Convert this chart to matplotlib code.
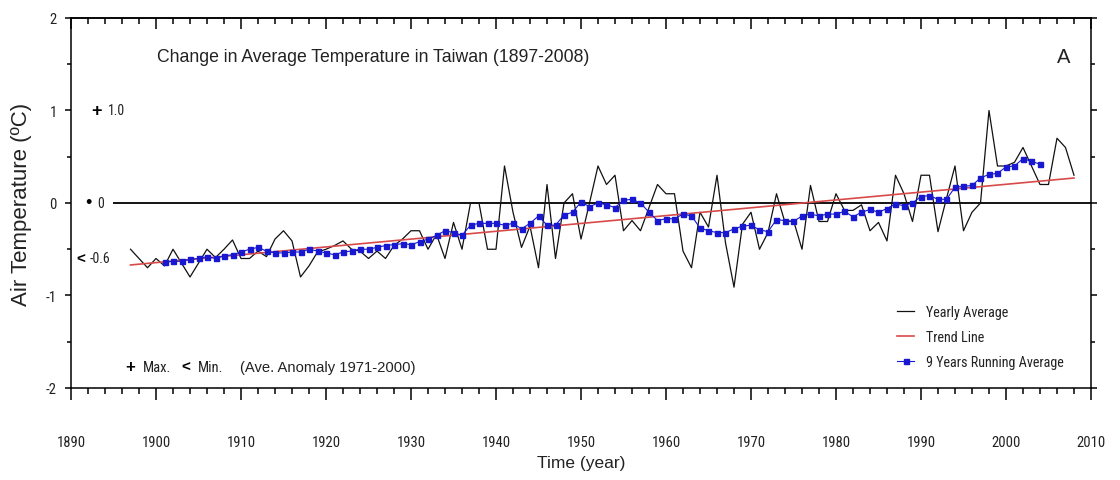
import matplotlib
matplotlib.use('Agg')
import matplotlib.pyplot as plt
from matplotlib.ticker import MultipleLocator
import numpy as np

# yearly average anomaly, 1897-2008
years = np.arange(1897, 2009)
yearly = [-0.50, -0.60, -0.70, -0.60, -0.68, -0.50, -0.65, -0.80, -0.65, -0.50,
          -0.59, -0.50, -0.40, -0.60, -0.60, -0.52, -0.58, -0.39, -0.30, -0.41,
          -0.80, -0.68, -0.53, -0.50, -0.46, -0.41, -0.50, -0.52, -0.60, -0.52,
          -0.60, -0.46, -0.39, -0.30, -0.30, -0.50, -0.34, -0.60, -0.21, -0.50,
          0.00, 0.00, -0.50, -0.50, 0.40, -0.10, -0.48, -0.25, -0.70, 0.20,
          -0.60, 0.00, 0.10, -0.39, 0.00, 0.40, 0.20, 0.30, -0.30, -0.19,
          -0.30, -0.05, 0.20, 0.10, 0.10, -0.52, -0.70, -0.10, -0.26, 0.30,
          -0.43, -0.91, -0.23, -0.10, -0.50, -0.32, 0.10, -0.21, -0.19, -0.50,
          0.19, -0.20, -0.20, 0.10, -0.08, -0.08, -0.02, -0.30, -0.21, -0.41,
          0.30, 0.10, -0.20, 0.30, 0.30, -0.31, 0.05, 0.40, -0.30, -0.10,
          0.00, 1.00, 0.40, 0.40, 0.44, 0.60, 0.40, 0.20, 0.20, 0.70,
          0.60, 0.30]

# 9 years running average, 1901-2004
run_years = np.arange(1901, 2005)
running = [-0.64, -0.63, -0.63, -0.61, -0.60, -0.58, -0.60, -0.57, -0.56, -0.53,
           -0.50, -0.48, -0.52, -0.54, -0.54, -0.53, -0.53, -0.50, -0.52, -0.54,
           -0.56, -0.53, -0.52, -0.50, -0.50, -0.48, -0.46, -0.45, -0.44, -0.45,
           -0.42, -0.39, -0.35, -0.30, -0.32, -0.35, -0.24, -0.22, -0.22, -0.22,
           -0.24, -0.22, -0.28, -0.22, -0.14, -0.24, -0.24, -0.13, -0.10, 0.01,
           -0.04, 0.00, -0.02, -0.05, 0.03, 0.04, 0.00, -0.10, -0.19, -0.17,
           -0.17, -0.12, -0.14, -0.27, -0.30, -0.32, -0.32, -0.28, -0.25, -0.24,
           -0.29, -0.31, -0.18, -0.19, -0.20, -0.14, -0.12, -0.14, -0.12, -0.12,
           -0.09, -0.15, -0.10, -0.07, -0.10, -0.06, -0.01, -0.03, 0.00, 0.07,
           0.08, 0.04, 0.04, 0.17, 0.18, 0.19, 0.27, 0.31, 0.32, 0.39,
           0.40, 0.48, 0.45, 0.42]

# trend line end points
trend_years = [1897, 2008]
trend_vals = [-0.67, 0.27]

narrow = ['Roboto Condensed', 'Liberation Sans', 'DejaVu Sans']
plt.rcParams['font.family'] = ['Liberation Sans', 'DejaVu Sans']
plt.rcParams['axes.unicode_minus'] = False
txt = '#222222'

fig = plt.figure(figsize=(11.2, 4.81), dpi=100)
ax = fig.add_axes([0.0634, 0.1913, 0.9107, 0.7692])

ax.hlines(0, 1894.9, 2010, color='black', lw=1.3, zorder=1)
ax.plot(years, yearly, color='#111111', lw=0.9, label='Yearly Average', zorder=2)
ax.plot(trend_years, trend_vals, color='#d84a4a', lw=1.2, label='Trend Line', zorder=3)
ax.plot(run_years, running, color='#1818d0', lw=0.8, marker='s', ms=3.6,
        mec='#1818d0', mfc='#1818d0', label='9 Years Running Average', zorder=4)

ax.set_xlim(1890, 2010)
ax.set_ylim(-2, 2)
for s in ax.spines.values():
    s.set_linewidth(1.1)

ax.xaxis.set_major_locator(MultipleLocator(10))
ax.xaxis.set_minor_locator(MultipleLocator(2))
ax.yaxis.set_major_locator(MultipleLocator(1))
ax.yaxis.set_minor_locator(MultipleLocator(0.5))
ax.tick_params(axis='x', which='major', direction='out', length=8.5, width=1.1, pad=25)
ax.tick_params(axis='x', which='minor', direction='out', length=4.3, width=1.1)
ax.tick_params(axis='y', which='major', direction='out', length=4.3, width=1.1,
               right=True, pad=6)
ax.tick_params(axis='y', which='minor', direction='out', length=3, width=1.1, right=True)
for lab in ax.get_xticklabels() + ax.get_yticklabels():
    lab.set_family(narrow)
    lab.set_fontsize(10.5)
    lab.set_color(txt)

top = ax.secondary_xaxis('top')
top.xaxis.set_major_locator(MultipleLocator(10))
top.xaxis.set_minor_locator(MultipleLocator(2))
top.tick_params(which='major', direction='in', length=8, width=1.1, labeltop=False)
top.tick_params(which='minor', direction='in', length=4.3, width=1.1)
top.spines['top'].set_linewidth(1.1)

ax.set_xlabel('Time (year)', fontsize=12.5, labelpad=5, color=txt)
ax.set_ylabel('Air Temperature (ºC)', fontsize=16, labelpad=10, color=txt)

ax.text(1900.1, 1.58, 'Change in Average Temperature in Taiwan (1897-2008)',
        fontsize=12.7, va='center', ha='left', color=txt)
ax.text(2006.8, 1.58, 'A', fontsize=14.5, va='center', ha='center', color=txt)

# reference marks on the left
ax.text(1893.0, 1.0, '+', fontsize=13, fontweight='bold', va='center', ha='center')
ax.text(1894.3, 1.0, '1.0', fontsize=10, va='center', ha='left', family=narrow, color=txt)
ax.text(1892.0, 0.0, '•', fontsize=13, va='center', ha='center')
ax.text(1893.1, 0.0, '0', fontsize=10, va='center', ha='left', family=narrow, color=txt)
ax.text(1891.1, -0.6, '<', fontsize=11, fontweight='bold', va='center', ha='center')
ax.text(1892.2, -0.6, '-0.6', fontsize=10, va='center', ha='left', family=narrow, color=txt)

ax.text(1896.9, -1.77, '+', fontsize=12, fontweight='bold', va='center', ha='center')
ax.text(1898.5, -1.77, 'Max.', fontsize=10.5, va='center', ha='left', family=narrow, color=txt)
ax.text(1903.5, -1.77, '<', fontsize=11, fontweight='bold', va='center', ha='center')
ax.text(1904.9, -1.77, 'Min.', fontsize=10.5, va='center', ha='left', family=narrow, color=txt)
ax.text(1909.9, -1.77, '(Ave. Anomaly 1971-2000)', fontsize=10.6, va='center', ha='left',
        color=txt)

leg = ax.legend(loc='lower right', bbox_to_anchor=(0.979, 0.037), borderaxespad=0,
                frameon=False, handlelength=1.2, handletextpad=0.85, labelspacing=0.75,
                prop={'family': narrow, 'size': 10.2})
for t in leg.get_texts():
    t.set_color(txt)

plt.savefig('out.png', dpi=100)
